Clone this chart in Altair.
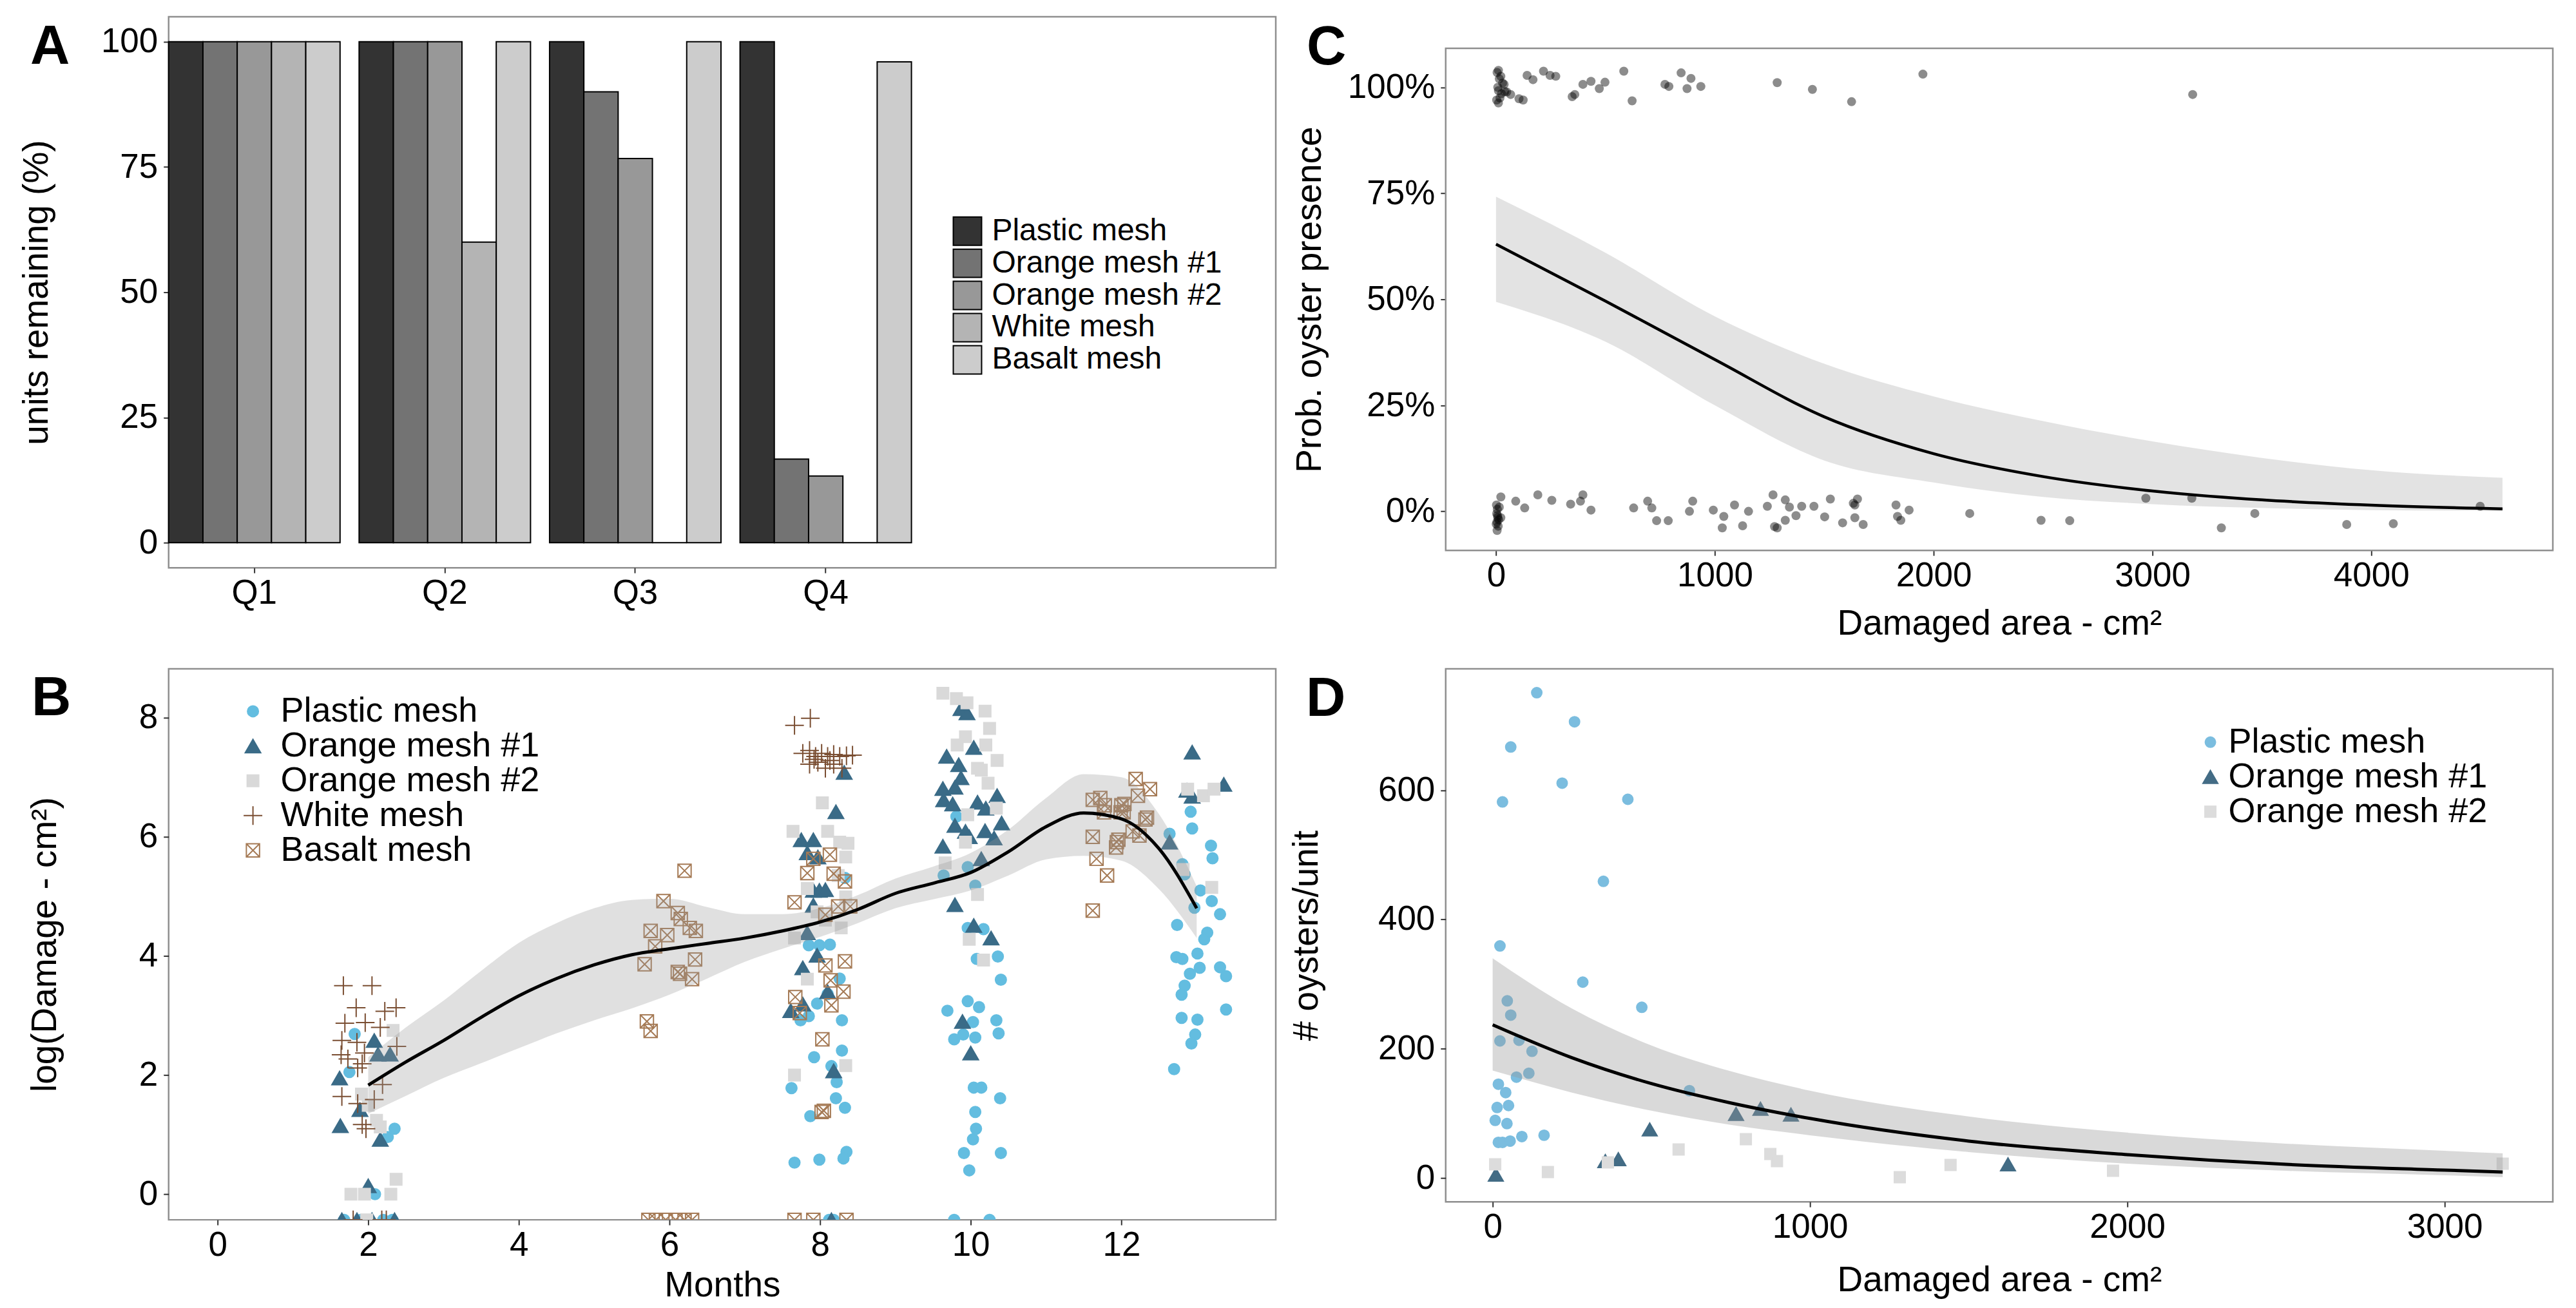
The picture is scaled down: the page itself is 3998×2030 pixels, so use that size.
import altair as alt
import pandas as pd

FONT = "Liberation Sans"
FRAME = "#8f8f8f"
TICK_FONT = 53
TITLE_FONT = 55

MESHES = ["Plastic mesh", "Orange mesh #1", "Orange mesh #2", "White mesh", "Basalt mesh"]

# ---------------- Panel A: units remaining per quarter ----------------
QUARTERS = ["Q1", "Q2", "Q3", "Q4"]
REMAINING_PLASTIC = [100, 100, 100, 100]
REMAINING_ORANGE1 = [100, 100, 90, 16.7]
REMAINING_ORANGE2 = [100, 100, 76.7, 13.3]
REMAINING_WHITE = [100, 60, 0, 0]
REMAINING_BASALT = [100, 100, 100, 96]
A_GREYS = ["#333333", "#737373", "#989898", "#b4b4b4", "#cccccc"]

# ---------------- Panel B: log damage by month ----------------
# None marks units with no damage (log of zero), drawn on the lower edge
PLASTIC_MONTH = [1.82, 1.75, 2.26, 2.35, 2.09, 1.68, 1.90, 2.20, 2.32,
                 8.33, 7.85, 7.99, 8.13, 8.26, 8.10, 7.96, 7.85, 7.74, 8.29, 8.29, 7.92, 8.15, 8.22, 7.62,
                 8.21, 8.33, 7.87, 8.35, 8.31, 7.66, 7.99, 8.12, 8.18,
                 9.81, 9.96, 9.64, 10.06, 9.96, 10.17, 10.08, 10.36, 10.40, 9.96, 10.11, 9.69, 10.03, 10.34,
                 9.78, 9.90, 10.06, 10.37, 10.04, 10.14, 10.39, 10.06, 10.07, 10.03, 9.91, 10.40, 9.98, 9.78, 10.25,
                 12.92, 12.94, 12.64, 13.19, 13.21, 12.81, 12.84, 13.05, 13.20, 12.97, 13.31, 12.74, 13.14, 13.10,
                 12.73, 12.81, 13.01, 13.04, 13.31, 13.39, 12.91, 12.84, 12.80, 12.80, 13.01, 13.39, 12.98, 12.93, 12.70]
PLASTIC_LOGDMG = [2.69, 2.05, 0.96, 1.10, 0.00, None, None, None, None,
                  5.31, 4.18, 4.18, 4.19, 3.62, 3.36, 3.20, 2.99, 2.92, 2.92, 2.41, 2.30, 2.15, 1.88, 1.78,
                  1.61, 1.45, 1.31, 0.71, 0.60, 0.53, 0.58, None, None,
                  6.34, 5.49, 5.35, 5.18, 4.47, 4.45, 3.95, 3.99, 3.60, 3.24, 3.14, 3.08, 2.89, 2.92,
                  2.60, 2.68, 2.63, 2.70, 1.79, 1.79, 1.61, 1.38, 1.10, 0.92, 0.69, 0.69, 0.40, None, None,
                  6.42, 6.14, 6.05, 5.85, 5.64, 5.54, 5.37, 5.10, 4.92, 4.81, 4.70, 4.52, 4.39, 4.28,
                  3.98, 3.95, 4.04, 3.80, 3.81, 3.66, 3.70, 3.50, 3.35, 2.96, 2.93, 3.10, 2.68, 2.53, 2.10]

ORANGE1_MONTH = [2.08, 2.13, 2.29, 1.62, 1.89, 1.63, 2.16, 2.00, 1.65, 1.85, 2.05, 2.35,
                 8.32, 8.21, 7.75, 7.91, 7.83, 7.97, 7.91, 7.99, 8.07, 7.91, 7.83, 7.96, 7.77, 7.61, 7.77,
                 8.10, 8.18, 8.15,
                 9.87, 9.95, 10.04, 9.68, 9.84, 9.87, 9.63, 9.79, 9.64, 9.76, 10.09, 10.20, 10.35, 9.79, 9.93,
                 9.98, 10.19, 10.31, 10.41, 9.63, 10.14, 9.79, 10.04, 10.27, 9.89, 10.00,
                 12.94, 13.36, 12.87, 12.94, 12.64]
ORANGE1_LOGDMG = [2.58, 2.35, 2.35, 1.95, 1.42, 1.15, 0.92, 0.14, None, None, None, None,
                  7.08, 6.42, 5.95, 5.95, 5.73, 5.66, 5.10, 5.10, 5.11, 4.85, 4.39, 4.01, 3.80, 3.08, 3.19,
                  3.40, 2.07, None,
                  8.15, 8.08, 7.50, 7.35, 7.21, 6.99, 6.81, 6.83, 6.62, 6.55, 6.58, 6.48, 6.69, 6.19, 6.09,
                  6.00, 6.10, 5.98, 6.23, 5.84, 5.63, 4.86, 4.51, 4.30, 2.90, 2.37,
                  7.42, 6.88, 6.78, 6.68, 5.91]

ORANGE2_MONTH = [2.33, 1.91, 2.00, 2.11, 2.16, 1.77, 1.95, 2.30, 2.37, 1.98,
                 8.03, 7.64, 8.10, 8.26, 8.37, 8.34, 7.83, 8.24, 8.34, 8.07, 8.28, 7.66, 7.83, 8.34, 7.66, 7.96,
                 9.63, 9.81, 9.95, 10.19, 10.25, 9.93, 10.20, 9.82, 10.35, 10.09, 10.14, 10.23, 9.96, 9.66,
                 9.93, 10.34, 9.98, 10.17, 10.09,
                 12.88, 13.09, 13.23, 13.20, 12.82]
ORANGE2_LOGDMG = [2.75, 1.68, 1.49, 1.24, 1.13, 0.00, 0.00, 0.00, 0.25, None,
                  6.57, 6.09, 6.09, 5.91, 5.89, 5.66, 5.13, 5.35, 4.99, 4.60, 4.47, 4.30, 3.61, 2.16, 2.00, 4.74,
                  8.41, 8.32, 8.25, 8.11, 7.82, 7.68, 7.54, 7.54, 7.28, 7.15, 7.12, 6.90, 6.37, 5.56,
                  5.91, 6.48, 4.28, 3.93, 5.03,
                  6.80, 6.69, 6.80, 5.15, 5.45]

WHITE_MONTH = [1.67, 2.05, 1.84, 2.22, 2.37, 1.69, 1.96, 2.16, 1.65, 1.85, 1.64, 1.73, 1.95, 2.38,
               1.86, 1.92, 2.19, 1.65, 1.86, 2.08, 1.92, 1.97, 1.80, 2.18, 2.24,
               7.66, 7.87, 7.77, 7.86, 7.94, 8.02, 8.10, 8.18, 8.26, 8.35, 8.43, 7.86, 7.97, 8.07, 8.18,
               8.29, 7.92, 8.13]
WHITE_LOGDMG = [3.50, 3.50, 3.13, 3.07, 3.13, 2.87, 2.88, 2.80, 2.58, 2.55, 2.34, 2.27, 2.37, 2.48,
                2.12, 2.19, 1.84, 1.64, 1.52, 1.59, 1.17, 1.10, None, None, None,
                7.87, 7.99, 7.40, 7.45, 7.35, 7.40, 7.35, 7.38, 7.35, 7.36, 7.37, 7.22, 7.25, 7.15, 7.22,
                7.15, 7.30, 7.28]

BASALT_MONTH = [6.20, 5.92, 6.11, 6.15, 5.75, 5.97, 6.27, 6.35, 5.81, 6.34, 5.67, 6.11, 6.14, 6.30, 5.70,
                5.75, 5.72, 5.82, 5.95, 6.08, 6.20, 6.30,
                8.13, 7.91, 7.83, 8.18, 8.33, 7.66, 8.24, 8.40, 8.07, 8.07, 8.33, 8.14, 8.31, 7.67, 8.15,
                7.73, 8.03, 8.02, 8.05, 7.66, 7.91, 8.35,
                12.19, 12.38, 11.62, 11.72, 11.78, 11.77, 12.00, 12.04, 11.99, 12.22, 12.32, 12.34, 12.15,
                12.24, 11.62, 11.94, 11.96, 11.93, 11.67, 11.81, 11.62, 12.03]
BASALT_LOGDMG = [5.43, 4.92, 4.72, 4.62, 4.42, 4.35, 4.47, 4.42, 4.16, 3.94, 3.86, 3.73, 3.70, 3.61, 2.90,
                 2.74, None, None, None, None, None, None,
                 5.70, 5.63, 5.39, 5.38, 5.25, 4.90, 4.83, 4.83, 4.69, 3.84, 3.91, 3.59, 3.40, 3.31, 3.17,
                 3.04, 2.60, 1.38, 1.40, None, None, None,
                 6.97, 6.80, 6.62, 6.65, 6.53, 6.41, 6.53, 6.55, 6.41, 6.69, 6.29, 6.32, 6.09,
                 6.02, 6.00, 5.91, 5.95, 5.82, 5.63, 5.35, 4.76, 6.41]

# loess fit with its confidence band
B_FIT_MONTH = [2.0, 2.5, 3.0, 3.5, 4.0, 4.5, 5.0, 5.5, 6.0, 6.5, 7.0, 7.5, 8.0, 8.5, 9.0, 9.5,
               10.0, 10.5, 11.0, 11.5, 12.0, 12.5, 13.0]
B_FIT = [1.83, 2.22, 2.58, 2.97, 3.33, 3.62, 3.85, 4.02, 4.12, 4.21, 4.30, 4.42, 4.57, 4.78, 5.05, 5.22,
         5.40, 5.75, 6.17, 6.40, 6.30, 5.80, 4.80]
B_FIT_LO = [1.35, 1.65, 1.95, 2.20, 2.45, 2.70, 2.92, 3.12, 3.35, 3.62, 3.90, 4.12, 4.32, 4.55, 4.80, 4.95,
            5.10, 5.35, 5.62, 5.68, 5.60, 5.12, 4.30]
B_FIT_HI = [2.30, 2.80, 3.25, 3.75, 4.22, 4.55, 4.80, 4.94, 4.96, 4.82, 4.70, 4.70, 4.80, 5.02, 5.30, 5.50,
            5.73, 6.12, 6.65, 7.05, 7.00, 6.38, 5.17]

# ---------------- Panel C: oyster presence vs damaged area ----------------
C_PRESENT_AREA = [11, 22, 37, 11, 49, 67, 11, 105, 124, 142, 169, 217, 247, 273, 348, 360, 397, 434, 472,
                  498, 584, 622, 772, 790, 846, 891, 873, 936, 1285, 1446, 1625, 1951, 3184,
                  5, 15, 8, 25, 18, 30, 3, 40]
C_PRESENT_Y = [1.040, 1.026, 1.007, 0.992, 0.989, 0.983, 0.963, 0.973, 0.970, 1.028, 1.018, 1.038, 1.028,
               1.026, 0.978, 0.983, 1.007, 1.014, 0.997, 1.012, 1.038, 0.968, 1.007, 1.002, 1.034, 1.021,
               0.997, 1.002, 1.011, 0.995, 0.966, 1.031, 0.983,
               1.035, 1.020, 1.000, 0.985, 0.975, 1.010, 0.970, 0.990]
C_ABSENT_AREA = [2, 6, 3, 8, 4, 10, 5, 12, 1, 15, 7, 22,
                 22, 90, 131, 191, 255, 341, 386, 397, 434, 629, 693, 712, 734, 787, 884, 899, 993, 1034,
                 1041, 1090, 1127, 1154, 1240, 1266, 1273, 1285, 1322, 1322, 1341, 1371, 1397, 1453, 1502,
                 1528, 1584, 1633, 1640, 1652, 1678, 1640, 1828, 1835, 1850, 1888, 2165, 2491, 2622, 2970,
                 3180, 3315, 3468, 3888, 4101, 4498]
C_ABSENT_Y = [0.015, 0.005, -0.005, -0.015, -0.025, -0.035, -0.045, -0.020, -0.030, 0.010, -0.010, -0.015,
              0.034, 0.024, 0.008, 0.039, 0.026, 0.017, 0.024, 0.039, 0.003, 0.008, 0.024, 0.008, -0.022,
              -0.022, 0.000, 0.024, 0.003, -0.039, -0.012, 0.015, -0.034, 0.000, 0.012, 0.039, -0.036,
              -0.039, 0.027, -0.021, 0.010, -0.010, 0.012, 0.012, -0.013, 0.029, -0.027, 0.019, -0.015,
              0.029, -0.031, 0.015, 0.015, -0.012, -0.021, 0.003, -0.005, -0.021, -0.022, 0.031, 0.031,
              -0.039, -0.005, -0.031, -0.029, 0.012]

# logistic fit with its confidence band
C_FIT_AREA = [0, 500, 1000, 1500, 2000, 2500, 3000, 3500, 4000, 4600]
C_FIT = [0.630, 0.496, 0.358, 0.223, 0.136, 0.082, 0.048, 0.027, 0.0145, 0.006]
C_FIT_LO = [0.494, 0.400, 0.250, 0.120, 0.068, 0.034, 0.017, 0.008, 0.003, 0.0015]
C_FIT_HI = [0.742, 0.610, 0.460, 0.348, 0.271, 0.213, 0.165, 0.126, 0.097, 0.079]

# ---------------- Panel D: oysters per unit vs damaged area ----------------
D_PLASTIC_AREA = [139, 258, 57, 219, 31, 426, 349, 23, 284, 470, 46, 57, 23, 83, 124, 114, 75, 18, 41, 620,
                  14, 50, 8, 45, 18, 31, 55, 92, 162]
D_PLASTIC_OYSTERS = [751, 706, 667, 611, 582, 586, 459, 359, 303, 264, 274, 252, 212, 213, 196, 162, 156,
                     145, 132, 135, 109, 112, 89, 84, 55, 55, 57, 64, 66]
D_ORANGE1_AREA = [10, 355, 396, 495, 767, 844, 940, 1624]
D_ORANGE1_OYSTERS = [5, 26, 29, 75, 99, 107, 98, 21]
D_ORANGE2_AREA = [8, 174, 363, 586, 798, 875, 896, 1283, 1443, 1955, 3183]
D_ORANGE2_OYSTERS = [21, 9, 24, 44, 60, 37, 26, 1, 20, 11, 22]

D_FIT_AREA = [0, 250, 500, 750, 1000, 1500, 2000, 2500, 3000, 3183]
D_FIT = [237, 186, 146, 116, 92, 57, 36, 21, 12, 9]
D_FIT_LO = [166, 132, 104, 82, 66, 40, 22, 11, 4, 1]
D_FIT_HI = [340, 262, 205, 165, 135, 95, 70, 53, 42, 38]

# ---------------- axis domains ----------------
A_Y_DOMAIN = [-5, 105]
B_X_DOMAIN = [-0.65, 14.05]
B_Y_DOMAIN = [-0.43, 8.82]
C_X_DOMAIN = [-230, 4830]
C_Y_DOMAIN = [-0.092, 1.092]
D_X_DOMAIN = [-148, 3341]
D_Y_DOMAIN = [-37, 788]

PLUS = "M-1,0L1,0M0,-1L0,1"
BOX_X = "M-1,-1L1,-1L1,1L-1,1ZM-1,-1L1,1M-1,1L1,-1"
B_SHAPES = ["circle", "triangle-up", "square", PLUS, BOX_X]
B_FILLS = ["#63bde0", "#3a6b87", "#d9d9d9", "transparent", "transparent"]
B_STROKES = ["#63bde0", "#3a6b87", "#d9d9d9", "#7a4e32", "#a57a55"]
B_SIZES = [289, 576, 324, 841, 420]

D_MESHES = MESHES[:3]
D_SHAPES = ["circle", "triangle-up", "square"]
D_COLORS = ["#7bbddf", "#436c85", "#dcdcdc"]
D_SIZES = [256, 529, 289]

A_W, A_H = 1720, 856
B_W, B_H = 1720, 856
C_W, C_H = 1720, 829
D_W, D_H = 1720, 828


def left_axis(title, values, title_x, title_y, fmt=None):
    kw = dict(title=title, values=values, titleX=title_x, titleY=title_y, titleAngle=270,
              titleAlign="center", titleBaseline="alphabetic")
    if fmt:
        kw["format"] = fmt
    return alt.Axis(**kw)


def bottom_axis(title, values, title_x, title_y, fmt="d"):
    return alt.Axis(title=title, values=values, labelAngle=0, format=fmt, titleX=title_x,
                    titleY=title_y, titleAlign="center", titleBaseline="alphabetic")


def panel_letter(letter, x, y):
    return alt.Chart(pd.DataFrame({"letter": [letter]})).mark_text(
        font=FONT, fontSize=85, fontWeight="bold", align="left", baseline="alphabetic", color="black"
    ).encode(text="letter:N", x=alt.value(x), y=alt.value(y))


def corner_anchor(x, y):
    return alt.Chart(pd.DataFrame({"k": [0]})).mark_rule(color="white", strokeWidth=1).encode(
        x=alt.value(x), x2=alt.value(x + 1), y=alt.value(y), y2=alt.value(y + 1))


def long_table(series, x_name, y_name, floor=None):
    rows = []
    for mesh, xs, ys in series:
        for x, y in zip(xs, ys):
            rows.append({"mesh": mesh, x_name: x, y_name: floor if y is None else y})
    return pd.DataFrame(rows)


# ---------------- A ----------------
a_rows = []
for mesh, vals in zip(MESHES, [REMAINING_PLASTIC, REMAINING_ORANGE1, REMAINING_ORANGE2,
                               REMAINING_WHITE, REMAINING_BASALT]):
    for q, v in zip(QUARTERS, vals):
        a_rows.append({"quarter": q, "mesh": mesh, "remaining": v})
a_df = pd.DataFrame(a_rows)

a_bars = alt.Chart(a_df).mark_bar(stroke="black", strokeWidth=2).encode(
    x=alt.X("quarter:N", sort=QUARTERS,
            scale=alt.Scale(domain=QUARTERS, range=[0, 1154], paddingInner=0.1, paddingOuter=0),
            axis=alt.Axis(title=None, labelAngle=0)),
    xOffset=alt.XOffset("mesh:N", sort=MESHES,
                        scale=alt.Scale(domain=MESHES, paddingInner=0, paddingOuter=0)),
    y=alt.Y("remaining:Q", scale=alt.Scale(domain=A_Y_DOMAIN, nice=False),
            axis=left_axis("units remaining (%)", [0, 25, 50, 75, 100], -188, A_H / 2)),
    fill=alt.Fill("mesh:N", scale=alt.Scale(domain=MESHES, range=A_GREYS),
                  legend=alt.Legend(title=None, orient="none", legendX=1217, legendY=309,
                                    symbolType="square", symbolSize=1936, symbolStrokeColor="black",
                                    symbolStrokeWidth=2, labelFontSize=48, labelOffset=14,
                                    labelLimit=1000, rowPadding=-2, padding=0)),
)
panel_a = alt.layer(a_bars, panel_letter("A", -215, 73), corner_anchor(-260, -23)).properties(
    width=A_W, height=A_H)

# ---------------- B ----------------
b_df = long_table([(MESHES[0], PLASTIC_MONTH, PLASTIC_LOGDMG),
                   (MESHES[1], ORANGE1_MONTH, ORANGE1_LOGDMG),
                   (MESHES[2], ORANGE2_MONTH, ORANGE2_LOGDMG),
                   (MESHES[3], WHITE_MONTH, WHITE_LOGDMG),
                   (MESHES[4], BASALT_MONTH, BASALT_LOGDMG)],
                  "month", "log_damage", floor=B_Y_DOMAIN[0])
b_fit_df = pd.DataFrame({"month": B_FIT_MONTH, "log_damage": B_FIT, "lo": B_FIT_LO, "hi": B_FIT_HI})

b_xscale = alt.Scale(domain=B_X_DOMAIN, nice=False, zero=False)
b_xaxis = bottom_axis("Months", [0, 2, 4, 6, 8, 10, 12], B_W / 2, 118)
b_yaxis = left_axis("log(Damage - cm²)", [0, 2, 4, 6, 8], -175, B_H / 2)
b_yscale = alt.Scale(domain=B_Y_DOMAIN, nice=False, zero=False)
b_legend = alt.Legend(title=None, orient="none", legendX=104, legendY=39, labelFontSize=54,
                      labelOffset=16, labelLimit=1000, rowPadding=0, symbolStrokeWidth=2, padding=0)

b_points = alt.Chart(b_df).mark_point(strokeWidth=2, opacity=1, clip=True).encode(
    x=alt.X("month:Q", scale=b_xscale, axis=b_xaxis),
    y=alt.Y("log_damage:Q", scale=b_yscale, axis=b_yaxis),
    shape=alt.Shape("mesh:N", scale=alt.Scale(domain=MESHES, range=B_SHAPES), legend=b_legend),
    fill=alt.Fill("mesh:N", scale=alt.Scale(domain=MESHES, range=B_FILLS), legend=b_legend),
    stroke=alt.Stroke("mesh:N", scale=alt.Scale(domain=MESHES, range=B_STROKES), legend=b_legend),
    size=alt.Size("mesh:N", scale=alt.Scale(type="ordinal", domain=MESHES, range=B_SIZES),
                  legend=b_legend),
)
b_band = alt.Chart(b_fit_df).mark_area(color="#999999", opacity=0.3, interpolate="monotone").encode(
    x=alt.X("month:Q", scale=b_xscale, axis=b_xaxis),
    y=alt.Y("lo:Q", scale=b_yscale, axis=b_yaxis), y2="hi:Q")
b_line = alt.Chart(b_fit_df).mark_line(color="black", strokeWidth=5, interpolate="monotone").encode(
    x=alt.X("month:Q", scale=b_xscale, axis=b_xaxis),
    y=alt.Y("log_damage:Q", scale=b_yscale, axis=b_yaxis))
panel_b = alt.layer(b_points, b_band, b_line, panel_letter("B", -213, 72)).properties(
    width=B_W, height=B_H)

# ---------------- C ----------------
c_df = pd.DataFrame({"area": C_PRESENT_AREA + C_ABSENT_AREA, "presence": C_PRESENT_Y + C_ABSENT_Y})
c_fit_df = pd.DataFrame({"area": C_FIT_AREA, "presence": C_FIT, "lo": C_FIT_LO, "hi": C_FIT_HI})

c_xscale = alt.Scale(domain=C_X_DOMAIN, nice=False, zero=False)
c_yscale = alt.Scale(domain=C_Y_DOMAIN, nice=False, zero=False, range=[C_H, 49])
c_xaxis = bottom_axis("Damaged area - cm²", [0, 1000, 2000, 3000, 4000], C_W / 2, 130)
c_yaxis = left_axis("Prob. oyster presence", [0, 0.25, 0.5, 0.75, 1.0], -194, 439, fmt=".0%")

c_frame = alt.Chart(pd.DataFrame({"k": [0]})).mark_rect(
    fillOpacity=0, stroke=FRAME, strokeWidth=2.5).encode(
    x=alt.X(datum=C_X_DOMAIN[0], type="quantitative", scale=c_xscale, axis=c_xaxis),
    x2=alt.X2(datum=C_X_DOMAIN[1]),
    y=alt.Y(datum=C_Y_DOMAIN[0], type="quantitative", scale=c_yscale, axis=c_yaxis),
    y2=alt.Y2(datum=C_Y_DOMAIN[1]))
c_band = alt.Chart(c_fit_df).mark_area(color="#999999", opacity=0.27, interpolate="monotone").encode(
    x=alt.X("area:Q", scale=c_xscale, axis=c_xaxis),
    y=alt.Y("lo:Q", scale=c_yscale, axis=c_yaxis), y2="hi:Q")
c_line = alt.Chart(c_fit_df).mark_line(color="black", strokeWidth=4.5, interpolate="monotone").encode(
    x=alt.X("area:Q", scale=c_xscale, axis=c_xaxis),
    y=alt.Y("presence:Q", scale=c_yscale, axis=c_yaxis))
c_points = alt.Chart(c_df).mark_circle(color="black", opacity=0.45, size=196).encode(
    x=alt.X("area:Q", scale=c_xscale, axis=c_xaxis),
    y=alt.Y("presence:Q", scale=c_yscale, axis=c_yaxis))
panel_c = alt.layer(c_frame, c_band, c_line, c_points, panel_letter("C", -216, 74)).properties(
    width=C_W, height=C_H, view=alt.ViewBackground(stroke="transparent"))

# ---------------- D ----------------
d_df = long_table([(MESHES[0], D_PLASTIC_AREA, D_PLASTIC_OYSTERS),
                   (MESHES[1], D_ORANGE1_AREA, D_ORANGE1_OYSTERS),
                   (MESHES[2], D_ORANGE2_AREA, D_ORANGE2_OYSTERS)], "area", "oysters")
d_fit_df = pd.DataFrame({"area": D_FIT_AREA, "oysters": D_FIT, "lo": D_FIT_LO, "hi": D_FIT_HI})

d_xscale = alt.Scale(domain=D_X_DOMAIN, nice=False, zero=False)
d_xaxis = bottom_axis("Damaged area - cm²", [0, 1000, 2000, 3000], D_W / 2, 138)
d_yscale = alt.Scale(domain=D_Y_DOMAIN, nice=False, zero=False)
d_yaxis = left_axis("# oysters/unit", [0, 200, 400, 600], -199, D_H / 2)
d_legend = alt.Legend(title=None, orient="none", legendX=1161, legendY=87, labelFontSize=54,
                      labelOffset=1, labelLimit=1000, rowPadding=0, symbolStrokeWidth=2, padding=0)

d_points = alt.Chart(d_df).mark_point(strokeWidth=2, opacity=1).encode(
    x=alt.X("area:Q", scale=d_xscale, axis=d_xaxis),
    y=alt.Y("oysters:Q", scale=d_yscale, axis=d_yaxis),
    shape=alt.Shape("mesh:N", scale=alt.Scale(domain=D_MESHES, range=D_SHAPES), legend=d_legend),
    fill=alt.Fill("mesh:N", scale=alt.Scale(domain=D_MESHES, range=D_COLORS), legend=d_legend),
    stroke=alt.Stroke("mesh:N", scale=alt.Scale(domain=D_MESHES, range=D_COLORS), legend=d_legend),
    size=alt.Size("mesh:N", scale=alt.Scale(type="ordinal", domain=D_MESHES, range=D_SIZES),
                  legend=d_legend),
)
d_band = alt.Chart(d_fit_df).mark_area(color="#999999", opacity=0.37, interpolate="monotone").encode(
    x=alt.X("area:Q", scale=d_xscale, axis=d_xaxis),
    y=alt.Y("lo:Q", scale=d_yscale, axis=d_yaxis), y2="hi:Q")
d_line = alt.Chart(d_fit_df).mark_line(color="black", strokeWidth=5, interpolate="monotone").encode(
    x=alt.X("area:Q", scale=d_xscale, axis=d_xaxis),
    y=alt.Y("oysters:Q", scale=d_yscale, axis=d_yaxis))
panel_d = alt.layer(d_points, d_band, d_line, panel_letter("D", -217, 73),
                    corner_anchor(3998 - 2245, 2030 - 1036)).properties(width=D_W, height=D_H)

# ---------------- layout ----------------
chart = alt.concat(
    panel_a, panel_c, panel_b, panel_d, columns=2,
    spacing=alt.RowColnumber(row=157, column=264), bounds="flush", padding=0,
).resolve_scale(
    fill="independent", stroke="independent", shape="independent", size="independent"
).resolve_legend(
    fill="independent", stroke="independent", shape="independent", size="independent"
).configure(
    font=FONT, background="white"
).configure_view(
    stroke=FRAME, strokeWidth=2.5
).configure_axis(
    labelFont=FONT, labelFontSize=TICK_FONT, labelColor="black",
    titleFont=FONT, titleFontSize=TITLE_FONT, titleFontWeight="normal", titleColor="black",
    domain=False, grid=False, ticks=True, tickColor="#333333", tickSize=8, tickWidth=2,
    labelPadding=5,
).configure_axisLeft(
    labelPadding=9
).configure_legend(
    labelFont=FONT, labelColor="black", padding=0, labelLimit=1000, rowPadding=0
)

chart.save("out.html", embed_options={"renderer": "svg", "actions": False})
